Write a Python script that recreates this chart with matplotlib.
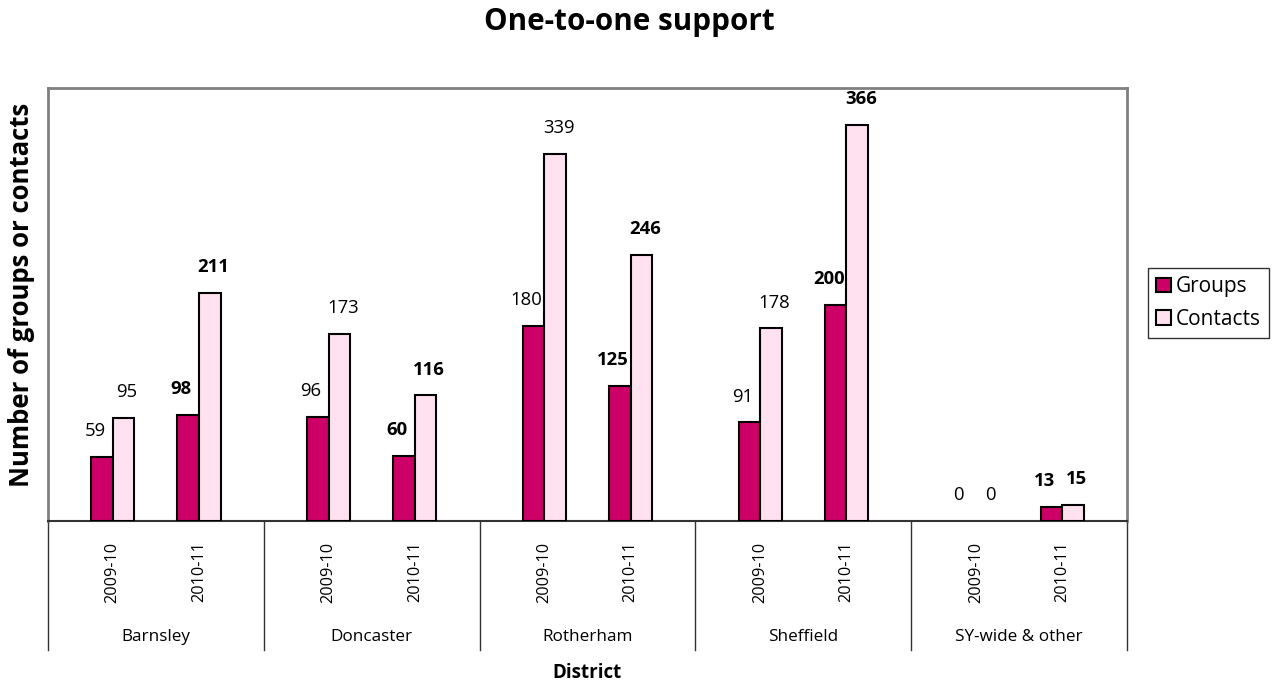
import matplotlib
matplotlib.use("Agg")
import matplotlib.pyplot as plt
import numpy as np

districts = ["Barnsley", "Doncaster", "Rotherham", "Sheffield", "SY-wide & other"]
years = ["2009-10", "2010-11"]
groups = [[59, 98], [96, 60], [180, 125], [91, 200], [0, 13]]
contacts = [[95, 211], [173, 116], [339, 246], [178, 366], [0, 15]]
series_names = ["Groups", "Contacts"]
colors = ["#CC0066", "#FFE1F0"]

plt.rcParams['font.family'] = ['Open Sans', 'DejaVu Sans']

W, H = 1275, 685
fig = plt.figure(figsize=(W / 100, H / 100), dpi=100)
L, R, T, B = 48, 1127, 88, 521
ax = fig.add_axes([L / W, 1 - B / H, (R - L) / W, (B - T) / H])

ax.set_xlim(0, len(districts))
ax.set_ylim(0, 400)

year_off = [-0.2, 0.2]
bw = 0.1

handles = []
for d in range(len(districts)):
    for yi in range(len(years)):
        xc = d + 0.5 + year_off[yi]
        weight = 'bold' if yi == 1 else 'normal'
        for si, (vals, col) in enumerate(zip([groups, contacts], colors)):
            v = vals[d][yi]
            xb = xc - bw if si == 0 else xc
            if v > 0:
                h = ax.bar(xb, v, width=bw, align='edge', color=col,
                           edgecolor='black', linewidth=1.5, zorder=3)
                if d == 0 and yi == 0:
                    handles.append(h)
            dx = -5 if si == 0 else 2.5
            ax.annotate(str(v), xy=(xb + bw / 2, v), xytext=(dx, 18.5),
                        textcoords='offset points', ha='center', va='center',
                        fontsize=13.3, fontweight=weight, color='black')

for side in ['top', 'left', 'right']:
    ax.spines[side].set_color('#808080')
    ax.spines[side].set_linewidth(2)
ax.spines['bottom'].set_color('#333333')
ax.spines['bottom'].set_linewidth(1.5)
ax.set_yticks([])
ax.set_xticks([])

tr = ax.get_xaxis_transform()
ybot = -(650 - B) / (B - T)
for d in range(len(districts) + 1):
    ax.plot([d, d], [0, ybot], transform=tr, color='#333333', linewidth=1,
            clip_on=False)
year_y = -(572 - B) / (B - T)
dist_y = -(637 - B) / (B - T)
for d, name in enumerate(districts):
    for yi, yr in enumerate(years):
        ax.text(d + 0.5 + year_off[yi], year_y, yr, transform=tr, rotation=90,
                ha='center', va='center', fontsize=11.7)
    ax.text(d + 0.5, dist_y, name, transform=tr, ha='center', va='center',
            fontsize=12.3)

fig.text(629 / W, 1 - 22 / H, "One-to-one support", ha='center', va='center',
         fontsize=21.3, fontweight='bold')
fig.text(22 / W, 1 - 295 / H, "Number of groups or contacts", rotation=90,
         ha='center', va='center', fontsize=18.5, fontweight='bold')
fig.text(587 / W, 1 - 673 / H, "District", ha='center', va='center',
         fontsize=13.5, fontweight='bold')

leg = fig.legend(handles, series_names, loc='upper left',
                 bbox_to_anchor=(1148 / W, 1 - 268 / H), borderaxespad=0,
                 fontsize=15, frameon=True, fancybox=False, edgecolor='black',
                 handlelength=0.7, handleheight=0.7, handletextpad=0.25,
                 borderpad=0.4, labelspacing=0.55)
leg.get_frame().set_linewidth(1)

fig.savefig("out.png", dpi=100)
